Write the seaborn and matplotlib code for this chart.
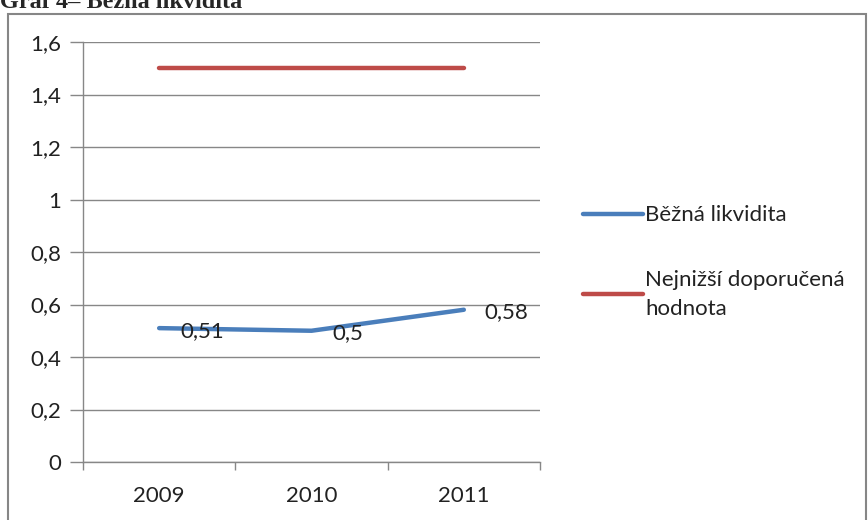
import matplotlib
matplotlib.use("Agg")
import matplotlib.pyplot as plt
import seaborn as sns
import pandas as pd
from matplotlib.patches import Rectangle
from matplotlib.ticker import FixedLocator, FuncFormatter

years = ["2009", "2010", "2011"]
bezna = [0.51, 0.50, 0.58]
doporucena = [1.5, 1.5, 1.5]
series_names = ["Běžná likvidita", "Nejnižší doporučená\nhodnota"]
value_labels = ["0,51", "0,5", "0,58"]
yticks = [0, 0.2, 0.4, 0.6, 0.8, 1.0, 1.2, 1.4, 1.6]

df = pd.DataFrame({
    "rok": years * 2,
    "hodnota": bezna + doporucena,
    "serie": [series_names[0]] * 3 + [series_names[1]] * 3,
})

sns.set_theme(style="white")
plt.rcParams["font.family"] = ["Lato", "DejaVu Sans"]

W, H = 868, 520
fig = plt.figure(figsize=(W / 100, H / 100), dpi=100)
L, R, T, B = 83, 540, 42, 462
ax = fig.add_axes([L / W, 1 - B / H, (R - L) / W, (B - T) / H])

sns.lineplot(data=df, x="rok", y="hodnota", hue="serie", ax=ax,
             palette=["#4A7EBB", "#BE4B48"], linewidth=3.2, sort=False,
             solid_capstyle="round")

ax.set_xlim(-0.5, 2.5)
ax.set_ylim(0, 1.6)
ax.set_xlabel("")
ax.set_ylabel("")
ax.set_yticks(yticks)
ax.yaxis.set_major_formatter(FuncFormatter(lambda v, p: f"{v:g}".replace(".", ",")))
ax.tick_params(axis="y", length=9.5, width=1, color="#878787", labelsize=16,
               pad=6, left=True, labelcolor="#222222")
ax.grid(axis="y", color="#878787", linewidth=1)
ax.set_axisbelow(True)
ax.set_xticks(range(len(years)))
ax.set_xticklabels(years)
ax.tick_params(axis="x", which="major", length=0, labelsize=16, pad=17,
               labelcolor="#222222")
ax.xaxis.set_minor_locator(FixedLocator([-0.5, 0.5, 1.5, 2.5]))
ax.tick_params(axis="x", which="minor", length=6, width=1, color="#878787",
               bottom=True)
for s in ["top", "right"]:
    ax.spines[s].set_visible(False)
for s in ["left", "bottom"]:
    ax.spines[s].set_color("#878787")
    ax.spines[s].set_linewidth(1)

for i, (v, t) in enumerate(zip(bezna, value_labels)):
    ax.annotate(t, (i, v), xytext=(15, -2), textcoords="offset points",
                ha="left", va="center", fontsize=16, color="#222222")

handles, labels = ax.get_legend_handles_labels()
leg = ax.legend(handles, labels, loc="center left", frameon=False,
                bbox_to_anchor=(572 / W, 1 - 262 / H), bbox_transform=fig.transFigure,
                fontsize=16, handlelength=2.7, handletextpad=0.1,
                labelspacing=2.0, borderpad=0, labelcolor="#222222")
for txt in leg.get_texts():
    txt.set_linespacing(1.55)

fig.patches.append(Rectangle((8 / W, -0.05), 858 / W, 1.05 - 14 / H,
                             transform=fig.transFigure, fill=False,
                             edgecolor="#868686", linewidth=1.5))

fig.text(0, 1 - 8 / H, "Graf 4– Běžná likvidita", fontsize=17.5, fontweight="bold",
         family=["Liberation Serif", "DejaVu Serif"], va="baseline", ha="left")

fig.savefig("out.png", dpi=100)
